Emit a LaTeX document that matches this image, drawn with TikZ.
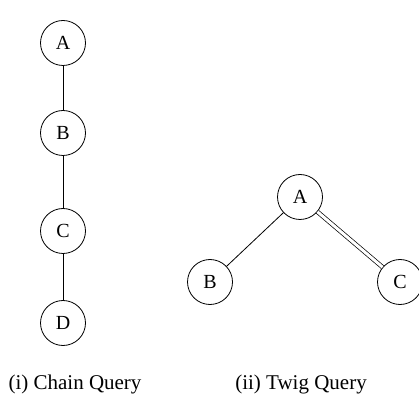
\documentclass[tikz,border=0pt]{standalone}
\usepackage{fontspec}
\setmainfont{Liberation Serif}
\begin{document}
\begin{tikzpicture}[x=1pt,y=1pt,
  qnode/.style={draw,circle,minimum size=45pt,inner sep=0pt,line width=0.8pt,font=\fontsize{20}{22}\selectfont},
  edge/.style={line width=0.8pt},
  dedge/.style={double,double distance=3pt,line width=0.7pt},
  caption/.style={font=\fontsize{21}{24}\selectfont}]
\useasboundingbox (0,0) rectangle (419,393);
% chain
\node[qnode] (ca) at (63,350) {A};
\node[qnode] (cb) at (63,260) {B};
\node[qnode] (cc) at (63,162) {C};
\node[qnode] (cd) at (63,70) {D};
\draw[edge] (ca) -- (cb);
\draw[edge] (cb) -- (cc);
\draw[edge] (cc) -- (cd);
% twig
\node[qnode] (ta) at (300,196) {A};
\node[qnode] (tb) at (210,111) {B};
\node[qnode] (tc) at (400,111) {C};
\draw[edge] (ta) -- (tb);
\draw[dedge] (ta) -- (tc);
% captions
\node[caption] (l1) at (75,9) {(i) Chain Query};
\node[caption] (l2) at (301,9) {(ii) Twig Query};
\end{tikzpicture}
\end{document}
